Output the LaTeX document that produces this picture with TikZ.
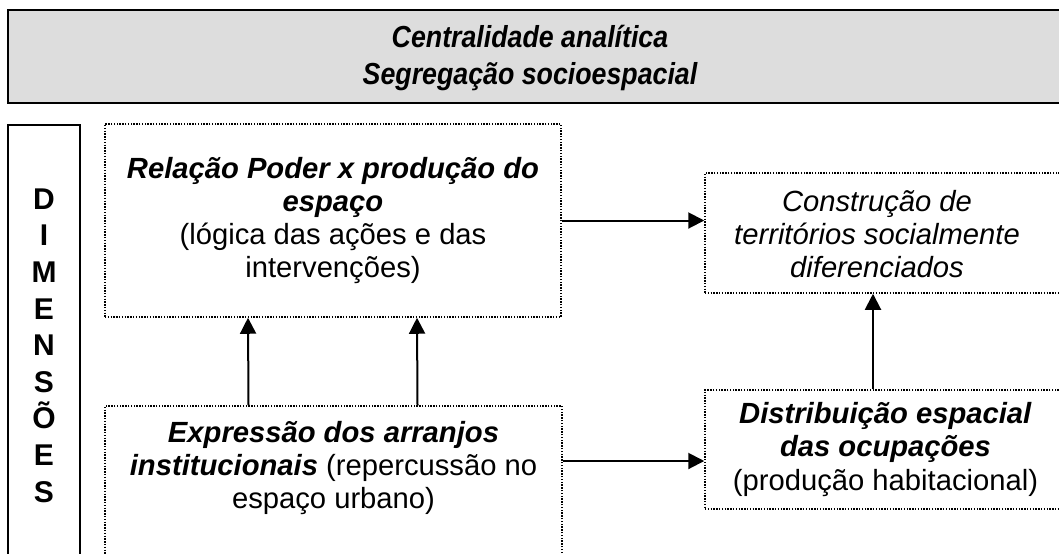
\documentclass[tikz,border=0pt]{standalone}
\usepackage{fontspec}
\setmainfont{Liberation Sans}
\newfontfamily\fontetitulo[FakeStretch=0.88]{Liberation Sans}
\usetikzlibrary{arrows.meta}
\definecolor{cinzaclaro}{HTML}{DDDDDD}

\begin{document}
\begin{tikzpicture}[
    x=0.5pt, y=-0.5pt, % 1 unidade = 1 pixel, eixo y para baixo
    every node/.style={font=\fontsize{14.6}{16.6}\selectfont, inner sep=0pt},
    moldura/.style={draw, line width=1pt, fill=cinzaclaro}, % Caixa do titulo
    lateral/.style={draw, line width=0.75pt}, % Caixa das dimensoes
    pontilhada/.style={draw, line width=0.75pt, dash pattern=on 0.7pt off 0.7pt}, % Caixas pontilhadas
    texto/.style={align=center}, % Texto das caixas
    seta/.style={line width=1pt, -{Triangle[length=8pt, width=8pt]}} % Setas
]
    \useasboundingbox (0,0) rectangle (1059,553);
    \clip (0,0) rectangle (1059,553);

    % Titulo
    \node[moldura, minimum width=531pt, minimum height=46.5pt] (topo) at (539,56.5) {};
    \node[texto, font=\fontetitulo\fontsize{15.2}{18.5}\selectfont\bfseries\itshape] (titulo) at (530,58)
        {Centralidade analítica\\Segregação socioespacial};

    % Coluna das dimensoes
    \node[lateral, minimum width=36pt, minimum height=237.5pt] (dim) at (44,362.5) {};
    \node[texto, font=\fontsize{15}{18.3}\selectfont\bfseries] (dimtexto) at (44,345.5)
        {D\\I\\M\\E\\N\\S\\Õ\\E\\S};

    % Caixas
    \node[pontilhada, texto, minimum width=228pt, minimum height=96.5pt] (rel) at (333,220.5)
        {\textbf{\textit{Relação Poder x produção do}}\\\textbf{\textit{espaço}}\\(lógica das ações e das\\intervenções)};
    \node[pontilhada, minimum width=180.5pt, minimum height=60pt] (constr) at (885.5,233) {};
    \node[texto] (constrtexto) at (877,234)
        {\textit{Construção de}\\\textit{territórios socialmente}\\\textit{diferenciados}};
    \node[pontilhada, texto, minimum width=180.5pt, minimum height=59.5pt] (distr) at (885.5,449.5)
        {\textbf{\textit{Distribuição espacial}}\\\textbf{\textit{das ocupações}}\\(produção habitacional)};
    \node[pontilhada, minimum width=228.5pt, minimum height=97pt] (expr) at (333.5,503) {};
    \node[texto] (exprtexto) at (333.5,468)
        {\textbf{\textit{Expressão dos arranjos}}\\\textbf{\textit{institucionais}} (repercussão no\\espaço urbano)};

    % Setas
    \draw[seta] (rel.east) -- (rel.east -| constr.west);
    \draw[seta] ([yshift=-5.75pt]expr.east |- distr.west) -- ([yshift=-5.75pt]distr.west);
    \draw[seta] ([xshift=-42.5pt]expr.north) -- ([xshift=-42.5pt]rel.south);
    \draw[seta] ([xshift=42pt]expr.north) -- ([xshift=42pt]rel.south);
    \draw[seta] ([xshift=-6.25pt]distr.north) -- ([xshift=-6.25pt]constr.south);

\end{tikzpicture}
\end{document}
